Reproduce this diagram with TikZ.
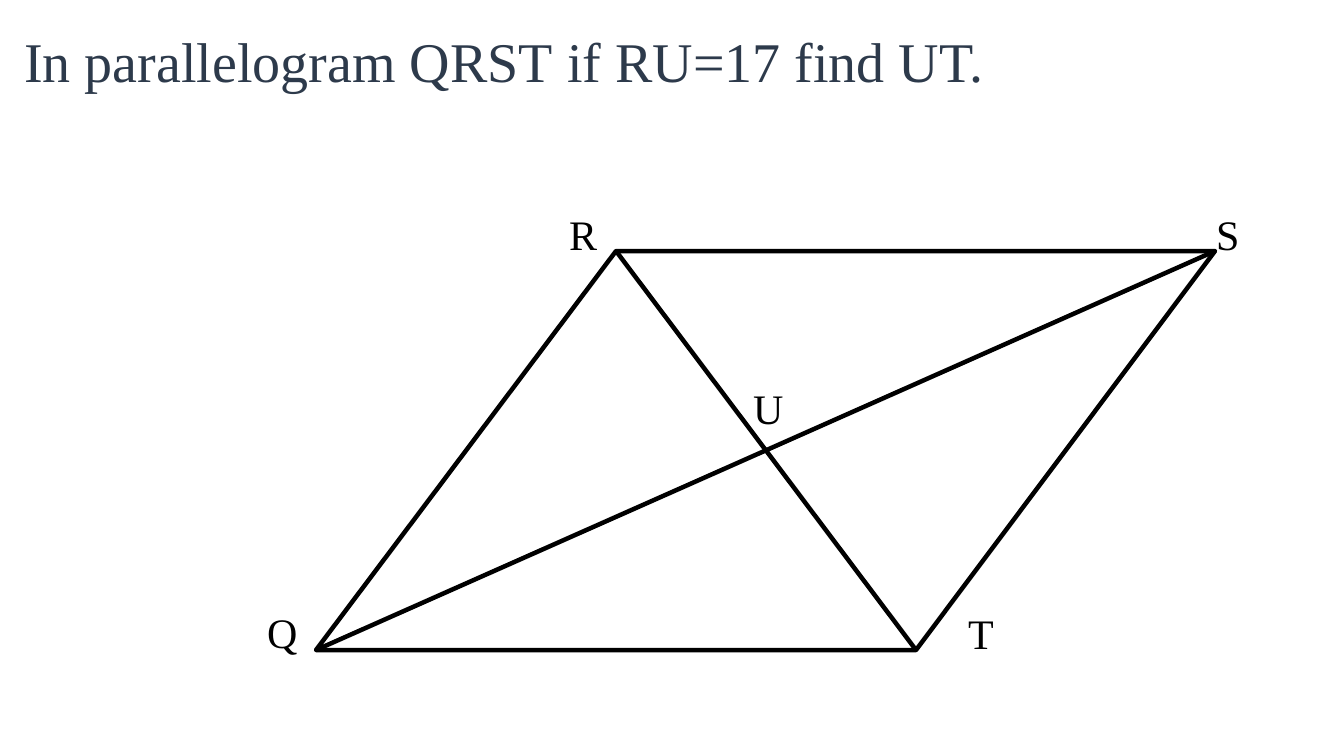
\documentclass[tikz,border=0pt]{standalone}
\usepackage{fontspec}
\setmainfont{Liberation Serif}
\definecolor{titleslate}{HTML}{2D3A4B}
\begin{document}
\begin{tikzpicture}[x=1pt, y=-1pt, line width=4.5pt, line join=round]
\tikzstyle{every node}=[inner sep=0pt, font=\fontsize{42}{50}\selectfont]
\useasboundingbox (0,0) rectangle (1332,737);
\node[anchor=base west, text=titleslate, font=\fontsize{56}{66}\selectfont](title) at (22,82) {In parallelogram QRST if RU=17 find UT.};
\coordinate (Q) at (316,650);
\coordinate (R) at (616,251);
\coordinate (S) at (1215,251);
\coordinate (T) at (916,650);
\node(lR) at (583,237) {R};
\node(lS) at (1228,237) {S};
\node(lU) at (769,411) {U};
\node(lQ) at (283,638) {Q};
\node(lT) at (981,636) {T};
\draw (Q) -- (R) -- (S) -- (T) -- cycle;
\draw (Q) -- (S);
\draw (R) -- (T);
\end{tikzpicture}
\end{document}
